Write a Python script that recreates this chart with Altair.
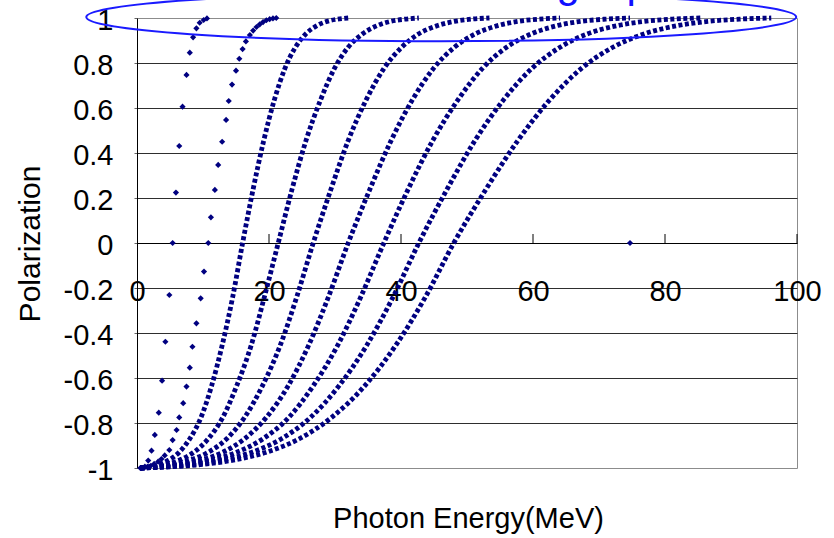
import altair as alt
import pandas as pd

FONT = "Liberation Sans"
NAVY = "#000080"

# ---- data -------------------------------------------------------------
# Low-energy curves: individual markers (photon energy in MeV, polarization)
C1_E = [0.7, 1.2, 1.7, 2.2, 2.7, 3.3, 3.8, 4.3, 4.9, 5.4, 5.9, 6.4, 6.9, 7.5,
        8.0, 8.5, 9.0, 9.5, 10.1, 10.6]
C1_P = [-1.0, -0.994, -0.967, -0.923, -0.853, -0.754, -0.612, -0.439, -0.231,
        0.0, 0.224, 0.431, 0.606, 0.747, 0.846, 0.914, 0.954, 0.979, 0.991, 0.998]

C2_E = [0.5, 1.1, 1.6, 2.1, 2.6, 3.2, 3.7, 4.2, 4.9, 5.4, 6.0, 6.4, 7.0, 7.5,
        8.0, 8.4, 9.0, 9.65, 10.15, 10.8, 11.2, 11.8, 12.3, 12.9, 13.5, 13.9,
        14.4, 15.0, 15.5, 16.0, 16.5, 17.1, 17.6, 18.1, 18.6, 19.1, 19.6, 20.1,
        20.6, 21.1]
C2_P = [-1.0, -0.998, -0.995, -0.99, -0.982, -0.972, -0.96, -0.944, -0.92,
        -0.876, -0.831, -0.775, -0.712, -0.638, -0.554, -0.461, -0.357, -0.246,
        -0.127, 0.0, 0.114, 0.236, 0.347, 0.45, 0.547, 0.631, 0.704, 0.766,
        0.819, 0.862, 0.896, 0.924, 0.944, 0.96, 0.972, 0.982, 0.99, 0.995,
        0.998, 1.0]

# Higher-energy curves: energy at which each curve reaches these polarization levels
P_LEVELS = [-1.0, -0.995, -0.985, -0.965, -0.93, -0.87, -0.775, -0.635, -0.455,
            -0.24, 0.0, 0.24, 0.455, 0.635, 0.775, 0.87, 0.93, 0.965, 0.985,
            0.995, 1.0]
C3_E = [0.5, 1.6, 3.2, 4.8, 6.4, 8.0, 9.7, 11.3, 12.9, 14.5, 16.0, 17.6, 19.2,
        20.8, 22.4, 24.0, 25.6, 27.2, 28.8, 30.4, 32.0]
C4_E = [0.5, 2.1, 4.3, 6.4, 8.6, 10.8, 13.0, 15.1, 17.3, 19.3, 21.4, 23.5, 25.6,
        27.8, 29.9, 32.0, 34.2, 36.3, 38.4, 40.6, 42.7]
C5_E = [0.5, 2.7, 5.3, 8.0, 10.8, 13.6, 16.3, 19.0, 21.7, 24.2, 26.7, 29.4, 32.0,
        34.7, 37.4, 40.1, 42.7, 45.4, 48.1, 50.7, 53.4]
C6_E = [0.5, 3.2, 6.4, 9.7, 13.0, 16.3, 19.6, 22.9, 26.0, 29.0, 32.0, 35.3, 38.5,
        41.7, 44.9, 48.1, 51.3, 54.5, 57.7, 60.9, 64.1]
C7_E = [0.5, 3.7, 7.5, 11.3, 15.1, 19.1, 23.0, 26.7, 30.4, 33.9, 37.4, 41.1, 44.8,
        48.6, 52.3, 56.0, 59.8, 63.5, 67.2, 71.0, 74.7]
C8_E = [0.5, 4.3, 8.5, 12.9, 17.4, 21.9, 26.3, 30.6, 34.8, 38.8, 42.7, 47.0, 51.2,
        55.5, 59.8, 64.1, 68.3, 72.6, 76.9, 81.1, 85.4]
C9_E = [0.5, 4.8, 9.6, 14.6, 19.6, 24.6, 29.5, 34.5, 39.2, 43.7, 48.0, 52.9, 57.7,
        62.5, 67.3, 72.1, 76.9, 81.7, 86.5, 91.3, 96.1]

# Single isolated sample
STRAY_E = [74.7]
STRAY_P = [0.0]

X_TICKS = [0, 20, 40, 60, 80, 100]
Y_TICKS = [-1, -0.8, -0.6, -0.4, -0.2, 0, 0.2, 0.4, 0.6, 0.8, 1]
UP_TICKS = [20, 40, 60, 80, 100]
TICK_LEN = 0.04

NOTE_TEXT = "Reaching a polarization of 1"
NOTE_POS = (40.2, 1.092)
RING_POS = (46.1, 1.004)

# ---- tables -----------------------------------------------------------
rows = []
for cid, (es, ps) in {"c1": (C1_E, C1_P), "c2": (C2_E, C2_P),
                      "stray": (STRAY_E, STRAY_P)}.items():
    rows += [{"curve": cid, "kind": "dot", "energy": e, "pol": p} for e, p in zip(es, ps)]
for cid, es in {"c3": C3_E, "c4": C4_E, "c5": C5_E, "c6": C6_E,
                "c7": C7_E, "c8": C8_E, "c9": C9_E}.items():
    rows += [{"curve": cid, "kind": "line", "energy": e, "pol": p} for e, p in zip(es, P_LEVELS)]
df = pd.DataFrame(rows)

tick_df = pd.DataFrame({"energy": UP_TICKS, "pol": [0.0] * len(UP_TICKS),
                        "pol2": [TICK_LEN] * len(UP_TICKS)})
note_df = pd.DataFrame({"energy": [NOTE_POS[0]], "pol": [NOTE_POS[1]], "txt": [NOTE_TEXT]})
ring_df = pd.DataFrame({"energy": [RING_POS[0]], "pol": [RING_POS[1]]})

xscale = alt.Scale(domain=[0, 100], nice=False, zero=False)
yscale = alt.Scale(domain=[-1, 1], nice=False, zero=False)

x_enc = alt.X(
    "energy:Q", scale=xscale,
    axis=alt.Axis(
        values=X_TICKS, format="d", offset=-225, grid=False,
        domainColor="black", domainWidth=1, ticks=False, tickSize=0,
        labelPadding=57, labelBaseline="alphabetic", labelFlush=False,
        labelFont=FONT, labelFontSize=29, labelColor="black",
        title="Photon Energy(MeV)", titleFont=FONT, titleFontSize=29,
        titleFontWeight="normal", titleColor="black", titleX=331, titleY=284,
        titleAlign="center", titleBaseline="alphabetic",
    ),
)
y_enc = alt.Y(
    "pol:Q", scale=yscale,
    axis=alt.Axis(
        values=Y_TICKS, format=".1~f", labelExpr="replace(datum.label, '\u2212', '-')",
        grid=True, gridWidth=1,
        gridColor=alt.condition("abs(datum.value) > 0.99", alt.value("transparent"), alt.value("#2e2e2e")),
        domainColor="black", domainWidth=1, tickSize=3, tickColor="#666666",
        labelPadding=21, labelOffset=2, labelFont=FONT, labelFontSize=29,
        labelColor="black",
        title="Polarization", titleFont=FONT, titleFontSize=30,
        titleFontWeight="normal", titleColor="black", titleAngle=270,
        titleX=-107, titleY=225.5, titleAlign="center", titleBaseline="middle",
    ),
)

base = alt.Chart(df).encode(x=x_enc, y=y_enc)

curves = base.transform_filter("datum.kind == 'line'").mark_line(
    interpolate="monotone", color=NAVY, strokeWidth=4.8, strokeDash=[4, 2.5]
).encode(detail="curve:N")

dots = base.transform_filter("datum.kind == 'dot'").mark_point(
    shape="diamond", filled=True, size=38, color=NAVY, opacity=1
)

# upward tick marks on the zero-crossing energy axis
ticks = alt.Chart(tick_df).mark_rule(color="black", strokeWidth=1).encode(
    x=x_enc, y=y_enc, y2="pol2:Q"
)

note = alt.Chart(note_df).mark_text(
    align="left", baseline="alphabetic", font=FONT, fontSize=42,
    color="#1010ff", clip=False
).encode(x=x_enc, y=y_enc, text="txt:N")

ring = alt.Chart(ring_df).mark_point(
    shape="M -1 0 A 1 0.068 0 1 1 1 0 A 1 0.068 0 1 1 -1 0 Z",
    size=710 * 710, filled=False, stroke="#1a1aff", strokeWidth=2,
    opacity=1, clip=False
).encode(x=x_enc, y=y_enc)

chart = alt.layer(curves, dots, ticks, note, ring).properties(
    width=660, height=450,
    autosize=alt.AutoSizeParams(type="none"),
    padding={"left": 137, "top": 18, "right": 37, "bottom": 70},
    background="white",
).configure_view(stroke="#8c8c8c", strokeWidth=1)

chart.save("out.html", embed_options={"renderer": "svg", "actions": False})
